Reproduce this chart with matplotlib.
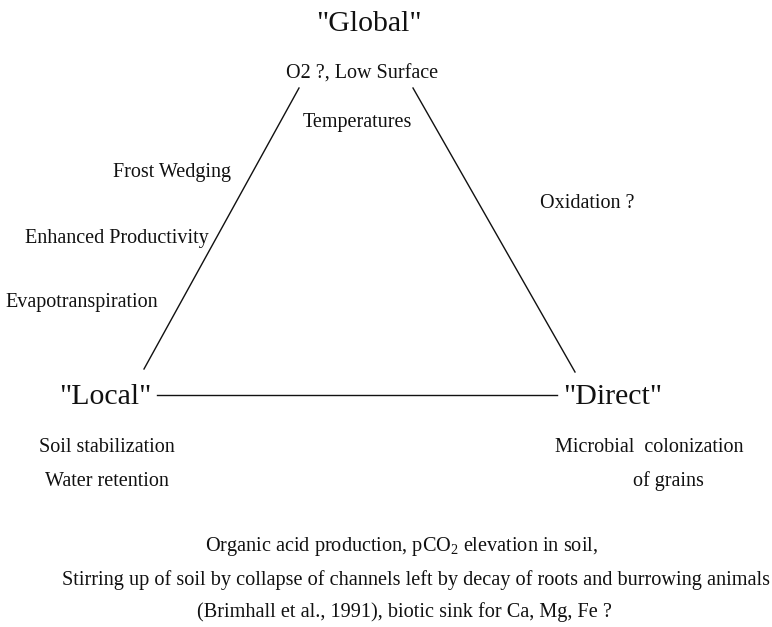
import matplotlib.pyplot as plt

plt.rcParams['font.family'] = ['Liberation Serif', 'DejaVu Serif']
plt.rcParams['mathtext.fontset'] = 'custom'
plt.rcParams['mathtext.rm'] = 'Liberation Serif'
plt.rcParams['mathtext.it'] = 'Liberation Serif:italic'

# corner labels of the triangle
corners = ['"Global"', '"Local"', '"Direct"']
corner_xy = [(369, 24), (105, 397), (613, 397)]

# triangle sides (pixel coords of the drawing)
left_side_x = [299, 144]
left_side_y = [88, 369]
right_side_x = [413, 575]
right_side_y = [88, 372]
base_x = [157, 557]
base_y = [395, 395]

# small annotations
notes = ['O2 ?, Low Surface', 'Temperatures', 'Frost Wedging',
         'Enhanced Productivity', 'Evapotranspiration', 'Oxidation ?',
         'Soil stabilization', 'Water retention',
         'Microbial  colonization', 'of grains']
notes_xy = [(362, 74), (357, 122), (172, 172), (117, 238), (82, 302),
            (587, 204), (107, 448), (107, 481), (649, 447), (668, 481)]

bottom = [r'Organic acid production, pCO$_2$ elevation in soil,',
          'Stirring up of soil by collapse of channels left by decay of roots and burrowing animals',
          '(Brimhall et al., 1991), biotic sink for Ca, Mg, Fe ?']
bottom_xy = [(402, 547), (416, 580), (404, 612)]

fig = plt.figure(figsize=(7.72, 6.27), dpi=100)
ax = fig.add_axes([0, 0, 1, 1])
ax.set_xlim(0, 772)
ax.set_ylim(627, 0)
ax.axis('off')

ink = '#111111'
for xs, ys in [(left_side_x, left_side_y), (right_side_x, right_side_y), (base_x, base_y)]:
    ax.plot(xs, ys, color=ink, lw=1.0)

for t, (x, y) in zip(corners, corner_xy):
    ax.text(x, y, t, fontsize=21.5, ha='center', va='center', color=ink)

for t, (x, y) in zip(notes, notes_xy):
    ax.text(x, y, t, fontsize=14.5, ha='center', va='center', color=ink)

for t, (x, y) in zip(bottom, bottom_xy):
    ax.text(x, y, t, fontsize=14.6, ha='center', va='center', color=ink)

fig.savefig('out.png', dpi=100, facecolor='white')
